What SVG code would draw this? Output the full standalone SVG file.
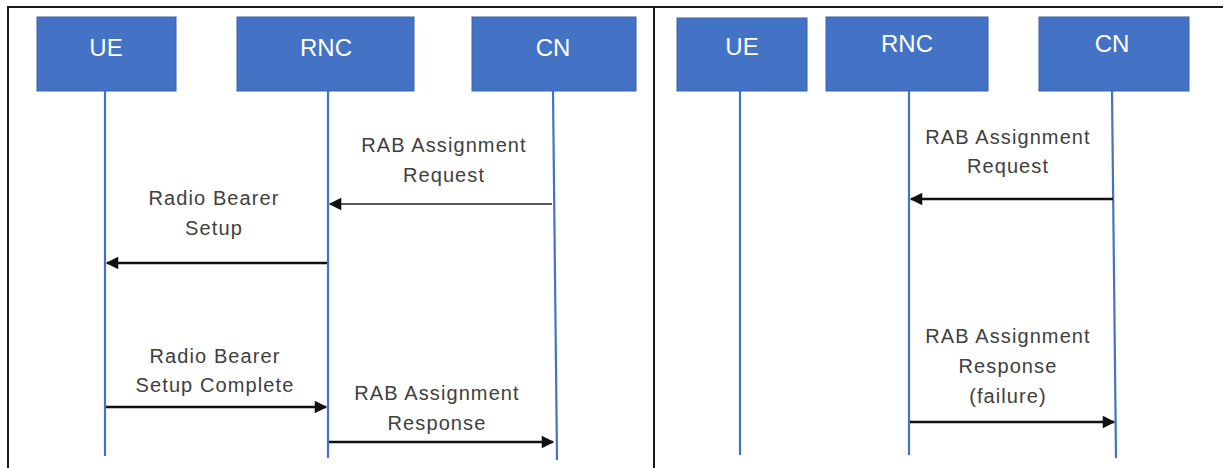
<svg xmlns="http://www.w3.org/2000/svg" width="1226" height="468" viewBox="0 0 1226 468">
  <style>
    .box { fill: #4472C4; stroke: #3A63AE; stroke-width: 1; }
    .title { fill: #FFFFFF; font-family: "Liberation Sans", Arial, sans-serif; font-size: 24px; text-anchor: middle; }
    .life { stroke: #4472C4; stroke-width: 2.2; fill: none; }
    .frame { stroke: #1A1A1A; stroke-width: 2; fill: none; }
    .msg { stroke: #111111; stroke-width: 2.4; fill: none; marker-end: url(#head); }
    .msg-thin { stroke: #222222; stroke-width: 1.4; fill: none; marker-end: url(#head-thin); }
    .label { fill: #404040; font-family: "Liberation Sans", Arial, sans-serif; font-size: 20px; text-anchor: middle; letter-spacing: 1.1px; }
  </style>
  <defs>
    <marker id="head" viewBox="0 0 10 10" refX="9" refY="5" markerWidth="6" markerHeight="5.2" orient="auto" markerUnits="strokeWidth">
      <path d="M0,0 L10,5 L0,10 z" fill="#111111"/>
    </marker>
    <marker id="head-thin" viewBox="0 0 10 10" refX="9" refY="5" markerWidth="10" markerHeight="9" orient="auto" markerUnits="strokeWidth">
      <path d="M0,0 L10,5 L0,10 z" fill="#111111"/>
    </marker>
  </defs>

  <rect width="1226" height="468" fill="#FFFFFF"/>

  <!-- outer frame and panel divider -->
  <g id="frame">
    <path class="frame" d="M8,468 V7 H1223"/>
    <line class="frame" x1="654" y1="7" x2="654" y2="468"/>
  </g>

  <!-- left panel: successful setup -->
  <g id="left-ue">
    <rect class="box" x="37" y="17" width="139" height="74"/>
    <text class="title" x="106" y="56">UE</text>
  </g>
  <g id="left-rnc">
    <rect class="box" x="237" y="17" width="177" height="74"/>
    <text class="title" x="326" y="56">RNC</text>
  </g>
  <g id="left-cn">
    <rect class="box" x="472" y="17" width="164" height="74"/>
    <text class="title" x="553" y="56">CN</text>
  </g>

  <!-- right panel: failed setup -->
  <g id="right-ue">
    <rect class="box" x="677" y="18" width="130" height="73"/>
    <text class="title" x="742" y="55">UE</text>
  </g>
  <g id="right-rnc">
    <rect class="box" x="826" y="17" width="162" height="74"/>
    <text class="title" x="907" y="52">RNC</text>
  </g>
  <g id="right-cn">
    <rect class="box" x="1039" y="17" width="150" height="74"/>
    <text class="title" x="1112" y="52">CN</text>
  </g>

  <g id="connectors">
    <!-- lifelines -->
    <line class="life" x1="105" y1="91" x2="105" y2="456"/>
    <line class="life" x1="328" y1="91" x2="328" y2="458"/>
    <line class="life" x1="553" y1="91" x2="557" y2="460"/>
    <line class="life" x1="740" y1="91" x2="740" y2="455"/>
    <line class="life" x1="909" y1="91" x2="909" y2="455"/>
    <line class="life" x1="1112" y1="91" x2="1116" y2="458"/>

    <!-- left panel messages -->
    <line class="msg-thin" x1="552" y1="204" x2="330" y2="204"/>
    <line class="msg" x1="327" y1="263" x2="107" y2="263"/>
    <line class="msg" x1="106" y1="407" x2="326" y2="407"/>
    <line class="msg" x1="329" y1="442" x2="553" y2="442"/>

    <!-- right panel messages -->
    <line class="msg" x1="1113" y1="199" x2="911" y2="199"/>
    <line class="msg" x1="910" y1="422" x2="1114" y2="422"/>
  </g>

  <g id="labels">
    <text class="label" x="444" y="152">RAB Assignment</text>
    <text class="label" x="444" y="182">Request</text>
    <text class="label" x="214" y="205">Radio Bearer</text>
    <text class="label" x="214" y="235">Setup</text>
    <text class="label" x="215" y="363">Radio Bearer</text>
    <text class="label" x="215" y="392">Setup Complete</text>
    <text class="label" x="437" y="400">RAB Assignment</text>
    <text class="label" x="437" y="430">Response</text>

    <text class="label" x="1008" y="144">RAB Assignment</text>
    <text class="label" x="1008" y="173">Request</text>
    <text class="label" x="1008" y="343">RAB Assignment</text>
    <text class="label" x="1008" y="373">Response</text>
    <text class="label" x="1008" y="403">(failure)</text>
  </g>
</svg>
